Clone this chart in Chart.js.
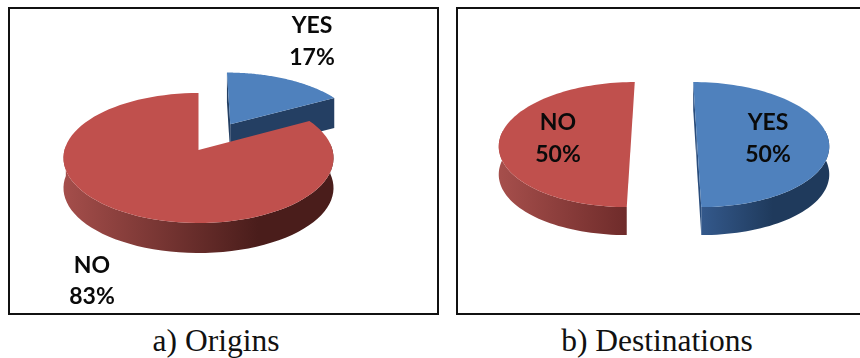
<!DOCTYPE html>
<html>
<head>
<meta charset="utf-8">
<title>Origins and destinations</title>
<script src="https://cdn.jsdelivr.net/npm/chart.js@4/dist/chart.umd.min.js"></script>
<style>
  html, body { margin: 0; padding: 0; background: #fff; }
  body { position: relative; width: 860px; height: 358px; overflow: hidden; }
  .frame { position: absolute; top: 7px; height: 304px; border: 2px solid #111; box-sizing: content-box; }
  #frameOrigins { left: 8px; width: 427px; }
  #frameDestinations { left: 456px; width: 410px; }
  canvas { position: absolute; top: 0; }
  #chartOrigins { left: 0; }
  #chartDestinations { left: 448px; }
  .caption { position: absolute; top: 323px; font: 31.5px "Liberation Serif", serif; line-height: 36px; color: #111; white-space: nowrap; transform: translateX(-50%); }
</style>
</head>
<body>
<div class="frame" id="frameOrigins"></div>
<div class="frame" id="frameDestinations"></div>
<canvas id="chartOrigins" width="448" height="320"></canvas>
<canvas id="chartDestinations" width="412" height="320"></canvas>
<div class="caption" style="left:216px">a) Origins</div>
<div class="caption" style="left:657px">b) Destinations</div>
<script>
  const categories = ["YES", "NO"];
  const originValues = [17, 83];
  const destinationValues = [50, 50];
  const sliceColors = ["#4f81bd", "#c0504d"];

  const SAMPLES = 90;

  // ground-plane disc -> screen, with a little perspective so the near edge is bigger
  function project(view, u, v) {
    const d = 1 - view.persp * v;
    return [view.cx + view.rx * u / d, view.cy + view.ry * v / d];
  }

  function slicePoints(view, arc, explode) {
    const mid = (arc.startAngle + arc.endAngle) / 2;
    const ox = explode * Math.cos(mid);
    const oy = explode * Math.sin(mid);
    const outline = [];
    for (let i = 0; i <= SAMPLES; i++) {
      const a = arc.startAngle + (arc.endAngle - arc.startAngle) * i / SAMPLES;
      outline.push({ a, p: project(view, Math.cos(a) + ox, Math.sin(a) + oy) });
    }
    return { apex: project(view, ox, oy), outline };
  }

  function fillPath(ctx, pts, fill) {
    ctx.beginPath();
    pts.forEach((p, i) => (i ? ctx.lineTo(p[0], p[1]) : ctx.moveTo(p[0], p[1])));
    ctx.closePath();
    ctx.fillStyle = fill;
    ctx.fill();
  }

  function drop(p, depth) {
    return [p[0], p[1] + depth];
  }

  function drawSlice(ctx, view, arc, index, color) {
    const { apex, outline } = slicePoints(view, arc, view.explode[index]);
    const wall = view.walls[index];
    const grad = ctx.createLinearGradient(wall.x0, 0, wall.x1, 0);
    grad.addColorStop(0, wall.from);
    grad.addColorStop(1, wall.to);
    const first = outline[0].p;
    const last = outline[outline.length - 1].p;

    // the two cut faces (null where they would face away)
    const cut = view.cutColors[index];
    if (cut) {
      fillPath(ctx, [apex, first, drop(first, view.depth), drop(apex, view.depth)], cut);
      fillPath(ctx, [apex, last, drop(last, view.depth), drop(apex, view.depth)], cut);
    }

    // curved rim, only the part turned towards the viewer
    const front = outline.filter((o) => Math.sin(o.a) > -0.12).map((o) => o.p);
    if (front.length > 1) {
      const lower = front.map((p) => drop(p, view.depth)).reverse();
      fillPath(ctx, front.concat(lower), grad);
    }

    fillPath(ctx, [apex].concat(outline.map((o) => o.p)), color);
  }

  function drawLabels(ctx, view, chart) {
    const values = chart.data.datasets[0].data;
    ctx.fillStyle = "#0a0a0a";
    ctx.font = 'bold 23px Lato, sans-serif';
    ctx.textAlign = "center";
    ctx.textBaseline = "middle";
    chart.data.labels.forEach((label, i) => {
      const pos = view.labels[i];
      ctx.fillText(label, pos.x, pos.y);
      ctx.fillText(values[i] + "%", pos.x, pos.y + pos.gap);
    });
  }

  // Chart.js works out the slice angles; this plugin paints them as a thick tilted disc
  function tiltedPie(view) {
    return {
      id: "tiltedPie",
      beforeDatasetsDraw(chart) {
        const ctx = chart.ctx;
        const arcs = chart.getDatasetMeta(0).data;
        ctx.save();
        arcs.forEach((arc, i) => drawSlice(ctx, view, arc, i, chart.data.datasets[0].backgroundColor[i]));
        drawLabels(ctx, view, chart);
        ctx.restore();
        return false;
      }
    };
  }

  function makePie(canvasId, values, view) {
    return new Chart(document.getElementById(canvasId), {
      type: "pie",
      data: {
        labels: categories,
        datasets: [{ data: values, backgroundColor: sliceColors, borderWidth: 0 }]
      },
      options: {
        responsive: false,
        animation: false,
        events: [],
        plugins: { legend: { display: false }, tooltip: { enabled: false } }
      },
      plugins: [tiltedPie(view)]
    });
  }

  makePie("chartOrigins", originValues, {
    cx: 198.5, cy: 150, rx: 134, ry: 64, persp: 0.123, depth: 30,
    explode: [0.49, 0],
    cutColors: ["#243f63", null],
    walls: [
      { from: "#243f63", to: "#243f63", x0: 230, x1: 340 },
      { from: "#a54e4b", to: "#4a1d1b", x0: 63, x1: 258 }
    ],
    labels: [{ x: 312, y: 26, gap: 32 }, { x: 92, y: 266, gap: 31 }]
  });

  makePie("chartDestinations", destinationValues, {
    cx: 216, cy: 137, rx: 131, ry: 61.6, persp: 0.121, depth: 28,
    explode: [0.25, 0.25],
    cutColors: ["#2a4d7c", null],
    walls: [
      { from: "#34598c", to: "#1f3a5c", x0: 253, x1: 325 },
      { from: "#a54e4b", to: "#6e2b2a", x0: 53, x1: 180 }
    ],
    labels: [{ x: 320, y: 123, gap: 32 }, { x: 110, y: 123, gap: 32 }]
  });
</script>
</body>
</html>
